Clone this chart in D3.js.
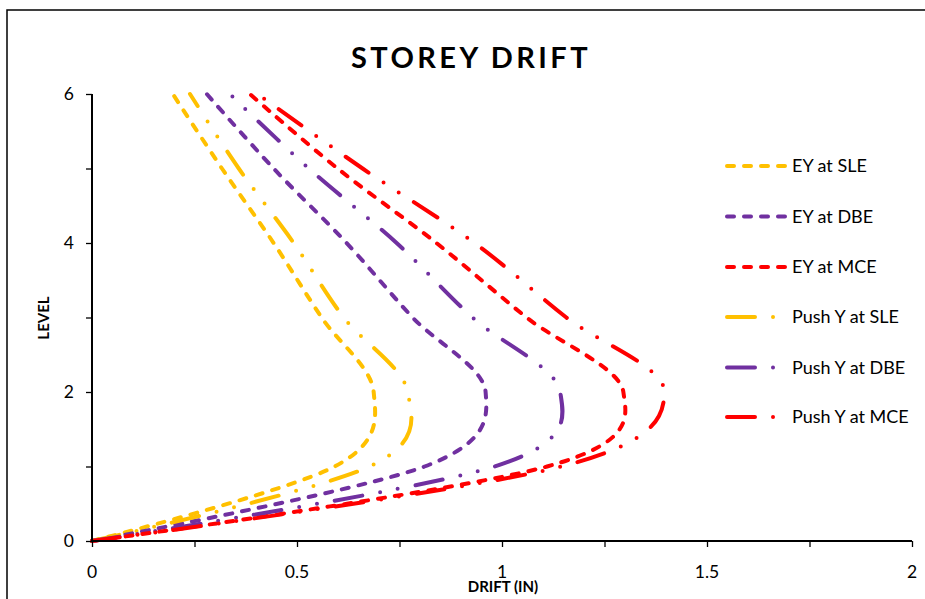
<!DOCTYPE html>
<html>
<head>
<meta charset="utf-8">
<script src="https://cdn.jsdelivr.net/npm/d3@7"></script>
<style>
  html, body { margin: 0; padding: 0; background: #fff; }
  svg { display: block; font-family: Lato, "Open Sans", sans-serif; }
</style>
</head>
<body>
<svg id="chart" width="925" height="599"></svg>
<script>
// ---- data ----
const levels = [0, 1, 2, 3, 4, 5, 6];
const eySLE   = [0, 0.592, 0.687, 0.560, 0.443, 0.317, 0.197];
const eyDBE   = [0, 0.811, 0.960, 0.782, 0.621, 0.443, 0.280];
const eyMCE   = [0, 1.110, 1.296, 1.060, 0.840, 0.599, 0.385];
const pushSLE = [0, 0.677, 0.770, 0.614, 0.492, 0.358, 0.239];
const pushDBE = [0, 0.982, 1.142, 0.928, 0.743, 0.529, 0.336];
const pushMCE = [0, 1.145, 1.396, 1.157, 0.933, 0.660, 0.404];
const seriesNames = ["EY at SLE", "EY at DBE", "EY at MCE", "Push Y at SLE", "Push Y at DBE", "Push Y at MCE"];
const xTicks = [0, 0.5, 1, 1.5, 2];
const xMinorTicks = [0, 0.25, 0.5, 0.75, 1, 1.25, 1.5, 1.75, 2];
const yTicks = [0, 2, 4, 6];
const yMinorTicks = [0, 1, 2, 3, 4, 5, 6];

const colors = ["#FFC000", "#7030A0", "#FF0000", "#FFC000", "#7030A0", "#FF0000"];
const dashEY = "7,10";
const dashPush = "28,18,0,18,0,18";
const seriesData = [eySLE, eyDBE, eyMCE, pushSLE, pushDBE, pushMCE];

const svg = d3.select("#chart");

// chart area border
svg.append("rect").attr("x", 7).attr("y", 10).attr("width", 960).attr("height", 640)
  .attr("fill", "none").attr("stroke", "#000").attr("stroke-width", 1.5);

const x = d3.scaleLinear().domain([0, 2]).range([92, 912]);
const y = d3.scaleLinear().domain([0, 6]).range([541, 94]);

// title
svg.append("text").attr("x", 471).attr("y", 68).attr("text-anchor", "middle")
  .attr("font-size", 29).attr("font-weight", "bold").attr("letter-spacing", 3.4)
  .text("STOREY DRIFT");

// series
const line = d3.line().curve(d3.curveCatmullRom.alpha(0));
seriesData.forEach((vals, i) => {
  const pts = levels.map((lv, j) => [x(vals[j]), y(lv)]);
  svg.append("path").attr("d", line(pts))
    .attr("fill", "none").attr("stroke", colors[i]).attr("stroke-width", 4)
    .attr("stroke-linecap", "round")
    .attr("stroke-dasharray", i < 3 ? dashEY : dashPush);
});

// axes
const xAxisG = svg.append("g").attr("transform", "translate(0,541)");
xAxisG.call(d3.axisBottom(x).tickValues(xMinorTicks).tickSize(6).tickFormat(""));
xAxisG.select(".domain").attr("stroke-width", 2).attr("d", "M92,0H912");
xAxisG.selectAll(".tick line").attr("stroke-width", 1.3);
svg.append("g").selectAll("text").data(xTicks).join("text")
  .attr("x", d => x(d)).attr("y", 578).attr("text-anchor", "middle")
  .attr("font-size", 17.5).text(d => d3.format("")(d));

const yAxisG = svg.append("g").attr("transform", "translate(92,0)");
yAxisG.call(d3.axisLeft(y).tickValues(yMinorTicks).tickSize(6).tickFormat(""));
yAxisG.select(".domain").attr("stroke-width", 2).attr("d", "M0,541V94");
yAxisG.selectAll(".tick line").attr("stroke-width", 1.3);
svg.append("g").selectAll("text").data(yTicks).join("text")
  .attr("x", 74).attr("y", d => y(d) + 6).attr("text-anchor", "end")
  .attr("font-size", 17.5).text(d => d);

// axis titles
svg.append("text").attr("x", 503).attr("y", 592).attr("text-anchor", "middle")
  .attr("font-size", 15).attr("font-weight", "bold").text("DRIFT (IN)");
svg.append("text").attr("transform", "translate(49,318) rotate(-90)").attr("text-anchor", "middle")
  .attr("font-size", 15).attr("font-weight", "bold").text("LEVEL");

// legend
const legendY = [166, 216.5, 267, 317, 367.5, 417];
seriesNames.forEach((name, i) => {
  const g = svg.append("g");
  g.append("line").attr("x1", 727).attr("x2", i < 3 ? 785 : 775)
    .attr("y1", legendY[i]).attr("y2", legendY[i])
    .attr("stroke", colors[i]).attr("stroke-width", 4).attr("stroke-linecap", "round")
    .attr("stroke-dasharray", i < 3 ? dashEY : dashPush);
  g.append("text").attr("x", 792).attr("y", legendY[i] + 6)
    .attr("font-size", 18).attr("fill", "#000").text(name);
});
</script>
</body>
</html>
